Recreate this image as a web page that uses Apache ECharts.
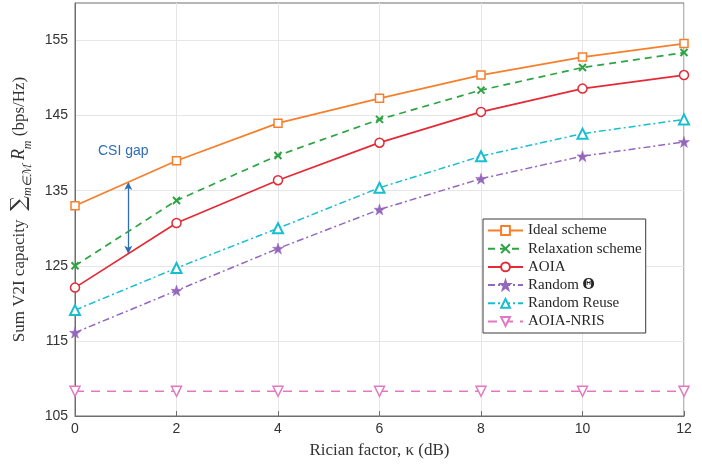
<!DOCTYPE html>
<html>
<head>
<meta charset="utf-8">
<script src="https://cdn.jsdelivr.net/npm/echarts@6/dist/echarts.min.js"></script>
<style>
  html, body { margin: 0; padding: 0; background: #fff; }
  #chart { width: 702px; height: 464px; }
</style>
</head>
<body>
<div id="chart"></div>
<script>
// Rician factor (dB)
const kappa = [0, 2, 4, 6, 8, 10, 12];

// sum V2I capacity (bps/Hz)
const idealScheme      = [133.0, 139.0, 144.0, 147.3, 150.4, 152.8, 154.6];
const relaxationScheme = [125.0, 133.7, 139.7, 144.5, 148.4, 151.4, 153.4];
const aoia             = [122.1, 130.7, 136.4, 141.4, 145.5, 148.6, 150.4];
const randomTheta      = [116.1, 121.7, 127.3, 132.5, 136.6, 139.6, 141.5];
const randomReuse      = [119.1, 124.7, 130.0, 135.4, 139.6, 142.6, 144.5];
const aoiaNris         = [108.3, 108.3, 108.3, 108.3, 108.3, 108.3, 108.3];

const yTicks = [105, 115, 125, 135, 145, 155];

// where the "CSI gap" arrow sits on the kappa axis
const csiGapX = 1.05;

const C = {
  orange: '#f77f2b',
  green: '#2ca443',
  red: '#e42a36',
  purple: '#9467bd',
  cyan: '#17becf',
  pink: '#e377c2',
  blue: '#2f6db8'
};

const crossPath = 'path://M0,0L10,10M10,0L0,10';
const starPath = 'path://M50,0L61.8,35.1L98.9,35.1L69.1,56.9L80.3,92.1L50,70.5L19.7,92.1L30.9,56.9L1.1,35.1L38.2,35.1Z';

function pairs(ys) { return kappa.map((k, i) => [k, ys[i]]); }
function lerp(ys, x) {
  for (let i = 0; i < kappa.length - 1; i++) {
    if (x >= kappa[i] && x <= kappa[i + 1]) {
      const t = (x - kappa[i]) / (kappa[i + 1] - kappa[i]);
      return ys[i] + t * (ys[i + 1] - ys[i]);
    }
  }
  return ys[0];
}

const chart = echarts.init(document.getElementById('chart'));

const option = {
  animation: false,
  backgroundColor: '#fff',
  grid: { left: 75, right: 18, top: 3, bottom: 47, show: true, borderColor: '#6e6e6e', borderWidth: 1 },
  xAxis: {
    type: 'value', min: 0, max: 12, interval: 2,
    name: 'Rician factor, κ (dB)', nameLocation: 'middle', nameGap: 26,
    nameTextStyle: { fontFamily: 'Liberation Serif', fontSize: 17, color: '#333' },
    axisLine: { show: true, lineStyle: { color: '#6e6e6e' } },
    axisTick: { show: true, inside: true, length: 5, lineStyle: { color: '#6e6e6e' } },
    axisLabel: { fontFamily: 'Liberation Sans', fontSize: 14, color: '#333', margin: 6 },
    splitLine: { show: true, lineStyle: { color: '#e6e6e6' } }
  },
  yAxis: {
    type: 'value', min: 105, max: 160, interval: 5,
    name: 'Sum V2I capacity  {sum|∑}{sub|m∈ℳ} {it|R}{sub|m} (bps/Hz)',
    nameLocation: 'middle', nameGap: 37,
    nameTextStyle: {
      fontFamily: 'Liberation Serif', fontSize: 17, color: '#333',
      rich: {
        sum: { fontFamily: 'DejaVu Serif', fontSize: 21, color: '#333', lineHeight: 28 },
        sub: { fontFamily: 'Liberation Serif', fontSize: 12, fontStyle: 'italic', color: '#333', verticalAlign: 'bottom', lineHeight: 28, padding: [9, 0, 0, 0] },
        it: { fontFamily: 'Liberation Serif', fontSize: 18, fontStyle: 'italic', color: '#333', lineHeight: 28 }
      }
    },
    axisLine: { show: true, lineStyle: { color: '#6e6e6e' } },
    axisTick: { show: false },
    axisLabel: {
      fontFamily: 'Liberation Sans', fontSize: 14, color: '#333', margin: 7,
      formatter: v => (yTicks.indexOf(v) >= 0 ? String(v) : '')
    },
    splitLine: { show: true, lineStyle: { color: ['#e6e6e6', 'rgba(0,0,0,0)'] } }
  },
  legend: {
    orient: 'vertical', left: 483, top: 219,
    padding: [4, 4, 4, 4],
    itemGap: 3.2, itemWidth: 35, itemHeight: 11,
    backgroundColor: '#fff', borderColor: '#3a3a3a', borderWidth: 1,
    textStyle: {
      fontFamily: 'Liberation Serif', fontSize: 15, lineHeight: 15, color: '#262626',
      rich: { b: { fontFamily: 'DejaVu Serif', fontWeight: 'bold', fontSize: 14, lineHeight: 15, color: '#262626' } }
    },
    formatter: name => name.replace('Θ', '{b|Θ}'),
    data: ['Ideal scheme', 'Relaxation scheme', 'AOIA', 'Random Θ', 'Random Reuse', 'AOIA-NRIS']
  },
  series: [
    {
      name: 'Ideal scheme', type: 'line', data: pairs(idealScheme),
      symbol: 'rect', symbolSize: 8,
      lineStyle: { color: C.orange, width: 1.7, type: 'solid' },
      itemStyle: { color: '#fff', borderColor: C.orange, borderWidth: 1.5 },
      z: 6,
      markLine: {
        silent: true, symbol: ['arrow', 'arrow'], symbolSize: [6, 8],
        lineStyle: { color: C.blue, width: 1.3, type: 'solid' },
        label: { show: false },
        data: [[
          { coord: [csiGapX, lerp(idealScheme, csiGapX)] },
          { coord: [csiGapX, lerp(aoia, csiGapX)] }
        ]]
      }
    },
    {
      name: 'Relaxation scheme', type: 'line', data: pairs(relaxationScheme),
      symbol: crossPath, symbolSize: 7,
      lineStyle: { color: C.green, width: 1.7, type: [7, 5] },
      itemStyle: { color: C.green, borderColor: C.green, borderWidth: 2 },
      z: 5
    },
    {
      name: 'AOIA', type: 'line', data: pairs(aoia),
      symbol: 'circle', symbolSize: 9,
      lineStyle: { color: C.red, width: 1.7, type: 'solid' },
      itemStyle: { color: '#fff', borderColor: C.red, borderWidth: 1.5 },
      z: 5
    },
    {
      name: 'Random Θ', type: 'line', data: pairs(randomTheta),
      symbol: starPath, symbolSize: 11,
      lineStyle: { color: C.purple, width: 1.5, type: [7, 3, 2, 3] },
      itemStyle: { color: C.purple, borderColor: C.purple, borderWidth: 0.5 },
      z: 4
    },
    {
      name: 'Random Reuse', type: 'line', data: pairs(randomReuse),
      symbol: 'triangle', symbolSize: 10,
      lineStyle: { color: C.cyan, width: 1.5, type: [7, 3, 2, 3] },
      itemStyle: { color: '#fff', borderColor: C.cyan, borderWidth: 2 },
      z: 4
    },
    {
      name: 'AOIA-NRIS', type: 'line', data: pairs(aoiaNris),
      symbol: 'triangle', symbolRotate: 180, symbolSize: 10,
      lineStyle: { color: C.pink, width: 1.5, type: [9, 7] },
      itemStyle: { color: '#fff', borderColor: C.pink, borderWidth: 1.5 },
      z: 4
    }
  ],
  graphic: [
    {
      type: 'text', left: 98, top: 144,
      style: { text: 'CSI gap', fontFamily: 'Liberation Sans', fontSize: 14, fill: C.blue }
    }
  ]
};

chart.setOption(option);
</script>
</body>
</html>
